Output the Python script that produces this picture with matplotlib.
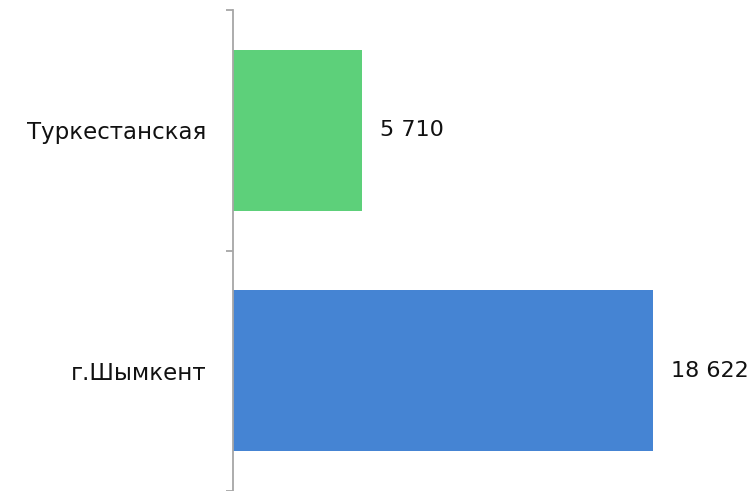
import numpy as np
import matplotlib.pyplot as plt
from matplotlib.ticker import FixedLocator

# --- data ---
regions = ['г.Шымкент', 'Туркестанская']
values = [18622, 5710]
labels = ['18 622', '5 710']
colors = ['#4584D3', '#5DD07A']

plt.rcParams['font.family'] = ['DejaVu Sans']

fig = plt.figure(figsize=(7.55, 4.91), dpi=100)
ax = fig.add_axes([233 / 755, 0.0, 1 - 233 / 755, 1 - 10 / 491])

y = np.arange(len(regions))
bars = ax.barh(y, values, height=0.67, color=colors)

for bar, txt in zip(bars, labels):
    ax.annotate(txt, (bar.get_width(), bar.get_y() + bar.get_height() / 2),
                xytext=(13, 0), textcoords='offset points',
                ha='left', va='center', fontsize=16, color='#111111')

ax.set_xlim(0, 18622 * 522 / 420)
ax.set_ylim(-0.5, len(regions) - 0.5)

ax.set_yticks(y)
ax.set_yticklabels(regions, fontsize=16.5, color='#111111')
ax.yaxis.set_minor_locator(FixedLocator(np.arange(-0.5, len(regions), 1.0)))
ax.tick_params(axis='y', which='major', length=0, pad=19)
ax.tick_params(axis='y', which='minor', length=5, width=1.3, color='#A6A6A6')

ax.set_xticks([])
for side in ['top', 'right', 'bottom']:
    ax.spines[side].set_visible(False)
ax.spines['left'].set_color('#A6A6A6')
ax.spines['left'].set_linewidth(1.3)

plt.savefig('out.png', dpi=100)
